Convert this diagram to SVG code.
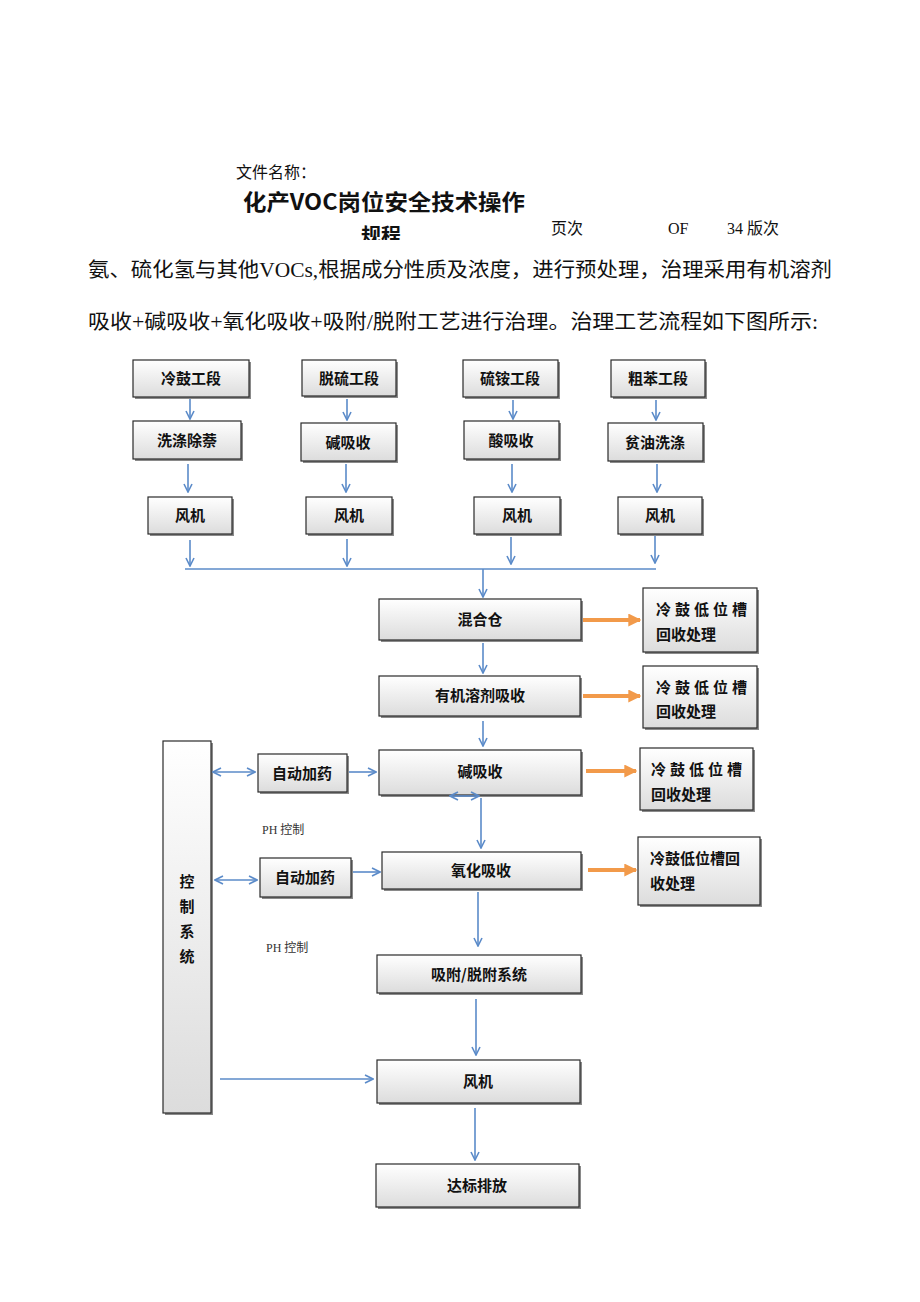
<svg xmlns="http://www.w3.org/2000/svg" width="920" height="1302" viewBox="0 0 920 1302">
<defs>
<linearGradient id="g" x1="0" y1="0" x2="0" y2="1">
<stop offset="0" stop-color="#ffffff"/>
<stop offset="1" stop-color="#dcdcdc"/>
</linearGradient>
<marker id="a" viewBox="0 0 10 10" refX="9" refY="5" markerWidth="10" markerHeight="10" orient="auto-start-reverse" markerUnits="userSpaceOnUse">
<path d="M1,1 L9,5 L1,9" fill="none" stroke="#5b8bc9" stroke-width="1.6"/>
</marker>
<marker id="o" viewBox="0 0 10 10" refX="9" refY="5" markerWidth="13" markerHeight="13" orient="auto" markerUnits="userSpaceOnUse">
<path d="M0,0 L10,5 L0,10 Z" fill="#f29a4a"/>
</marker>
<clipPath id="cl"><rect x="350" y="215" width="80" height="25"/></clipPath>
</defs>
<style>
.b{fill:url(#g);stroke:#2a2a2a;stroke-width:1.2}
.s{fill:#8a8a8a}
.t{font-family:"Noto Sans CJK SC","Liberation Sans",sans-serif;font-size:15px;font-weight:bold;fill:#111;text-anchor:middle}
.r{font-family:"Noto Sans CJK SC","Liberation Sans",sans-serif;font-size:15px;font-weight:bold;fill:#111}
.c{stroke:#5b8bc9;stroke-width:1.6;fill:none}
.ca{stroke:#5b8bc9;stroke-width:1.6;fill:none;marker-end:url(#a)}
.cd{stroke:#5b8bc9;stroke-width:1.6;fill:none;marker-end:url(#a);marker-start:url(#a)}
.co{stroke:#f29a4a;stroke-width:4;fill:none;marker-end:url(#o)}
.h{font-family:"Liberation Serif","Noto Sans CJK SC",serif;fill:#111}
.ph{font-family:"Liberation Serif","Noto Sans CJK SC",serif;font-size:12px;fill:#333}
</style>
<rect width="920" height="1302" fill="#ffffff"/>

<g id="header">
<text class="h" x="236" y="178" font-size="16">文件名称：</text>
<text x="243" y="210" font-family="Noto Sans CJK SC,Liberation Sans,sans-serif" font-size="22" font-weight="bold" fill="#111" textLength="282" lengthAdjust="spacingAndGlyphs">化产VOC岗位安全技术操作</text>
<text x="361" y="243" clip-path="url(#cl)" font-family="Noto Sans CJK SC,Liberation Sans,sans-serif" font-size="20" font-weight="bold" fill="#111">规程</text>
<text class="h" x="551" y="234" font-size="16">页次</text>
<text class="h" x="668" y="234" font-size="16">OF</text>
<text class="h" x="727" y="234" font-size="16">34 版次</text>
<text class="h" x="88" y="277" font-size="20" textLength="744" lengthAdjust="spacingAndGlyphs">氨、硫化氢与其他VOCs,根据成分性质及浓度，进行预处理，治理采用有机溶剂</text>
<text class="h" x="88" y="329" font-size="20" textLength="730" lengthAdjust="spacingAndGlyphs">吸收+碱吸收+氧化吸收+吸附/脱附工艺进行治理。治理工艺流程如下图所示:</text>
</g>

<g id="n1"><rect class="s" x="135" y="362" width="116" height="37"/><rect class="b" x="133" y="360" width="116" height="37"/><text class="t" x="191" y="384">冷鼓工段</text></g>
<g id="n2"><rect class="s" x="304" y="362" width="94" height="36"/><rect class="b" x="302" y="360" width="94" height="36"/><text class="t" x="349" y="384">脱硫工段</text></g>
<g id="n3"><rect class="s" x="465" y="362" width="95" height="37"/><rect class="b" x="463" y="360" width="95" height="37"/><text class="t" x="510" y="384">硫铵工段</text></g>
<g id="n4"><rect class="s" x="613" y="362" width="94" height="37"/><rect class="b" x="611" y="360" width="94" height="37"/><text class="t" x="658" y="384">粗苯工段</text></g>

<g id="n5"><rect class="s" x="135" y="423" width="108" height="38"/><rect class="b" x="133" y="421" width="108" height="38"/><text class="t" x="187" y="446">洗涤除萘</text></g>
<g id="n6"><rect class="s" x="303" y="425" width="95" height="38"/><rect class="b" x="301" y="423" width="95" height="38"/><text class="t" x="348" y="448">碱吸收</text></g>
<g id="n7"><rect class="s" x="466" y="423" width="95" height="38"/><rect class="b" x="464" y="421" width="95" height="38"/><text class="t" x="511" y="446">酸吸收</text></g>
<g id="n8"><rect class="s" x="610" y="425" width="95" height="38"/><rect class="b" x="608" y="423" width="95" height="38"/><text class="t" x="655" y="448">贫油洗涤</text></g>

<g id="n9"><rect class="s" x="150" y="499" width="84" height="37"/><rect class="b" x="148" y="497" width="84" height="37"/><text class="t" x="190" y="521">风机</text></g>
<g id="n10"><rect class="s" x="308" y="499" width="86" height="37"/><rect class="b" x="306" y="497" width="86" height="37"/><text class="t" x="349" y="521">风机</text></g>
<g id="n11"><rect class="s" x="476" y="499" width="86" height="37"/><rect class="b" x="474" y="497" width="86" height="37"/><text class="t" x="517" y="521">风机</text></g>
<g id="n12"><rect class="s" x="620" y="499" width="84" height="37"/><rect class="b" x="618" y="497" width="84" height="37"/><text class="t" x="660" y="521">风机</text></g>

<g id="n13"><rect class="s" x="381" y="601" width="202" height="41"/><rect class="b" x="379" y="599" width="202" height="41"/><text class="t" x="480" y="625">混合仓</text></g>
<g id="n14"><rect class="s" x="645" y="590" width="114" height="64"/><rect class="b" x="643" y="588" width="114" height="64"/><text class="r" x="656" y="615" letter-spacing="4">冷鼓低位槽</text><text class="r" x="656" y="640">回收处理</text></g>
<g id="n15"><rect class="s" x="381" y="678" width="201" height="40"/><rect class="b" x="379" y="676" width="201" height="40"/><text class="t" x="480" y="701">有机溶剂吸收</text></g>
<g id="n16"><rect class="s" x="645" y="668" width="114" height="62"/><rect class="b" x="643" y="666" width="114" height="62"/><text class="r" x="656" y="693" letter-spacing="4">冷鼓低位槽</text><text class="r" x="656" y="717">回收处理</text></g>

<g id="n17"><rect class="s" x="165" y="743" width="48" height="372"/><rect class="b" x="163" y="741" width="48" height="372"/>
<text class="t" x="187" y="887" font-size="17">控</text><text class="t" x="187" y="912" font-size="17">制</text><text class="t" x="187" y="937" font-size="17">系</text><text class="t" x="187" y="962" font-size="17">统</text></g>

<g id="n18"><rect class="s" x="260" y="756" width="89" height="38"/><rect class="b" x="258" y="754" width="89" height="38"/><text class="t" x="302" y="779">自动加药</text></g>
<g id="n19"><rect class="s" x="381" y="752" width="202" height="45"/><rect class="b" x="379" y="750" width="202" height="45"/><text class="t" x="480" y="777">碱吸收</text></g>
<g id="n20"><rect class="s" x="642" y="750" width="113" height="62"/><rect class="b" x="640" y="748" width="113" height="62"/><text class="r" x="651" y="775" letter-spacing="4">冷鼓低位槽</text><text class="r" x="651" y="800">回收处理</text></g>
<text class="ph" x="262" y="834">PH 控制</text>

<g id="n21"><rect class="s" x="262" y="860" width="91" height="39"/><rect class="b" x="260" y="858" width="91" height="39"/><text class="t" x="305" y="883">自动加药</text></g>
<g id="n22"><rect class="s" x="384" y="854" width="199" height="37"/><rect class="b" x="382" y="852" width="199" height="37"/><text class="t" x="481" y="876">氧化吸收</text></g>
<g id="n23"><rect class="s" x="640" y="839" width="122" height="68"/><rect class="b" x="638" y="837" width="122" height="68"/><text class="r" x="650" y="864">冷鼓低位槽回</text><text class="r" x="650" y="889">收处理</text></g>
<text class="ph" x="266" y="952">PH 控制</text>

<g id="n24"><rect class="s" x="379" y="957" width="204" height="38"/><rect class="b" x="377" y="955" width="204" height="38"/><text class="t" x="479" y="980">吸附/脱附系统</text></g>
<g id="n25"><rect class="s" x="379" y="1062" width="203" height="43"/><rect class="b" x="377" y="1060" width="203" height="43"/><text class="t" x="478" y="1087">风机</text></g>
<g id="n26"><rect class="s" x="378" y="1166" width="203" height="43"/><rect class="b" x="376" y="1164" width="203" height="43"/><text class="t" x="477" y="1191">达标排放</text></g>

<g id="connectors">
<line class="ca" x1="190" y1="399" x2="190" y2="419"/>
<line class="ca" x1="347" y1="399" x2="347" y2="420"/>
<line class="ca" x1="513" y1="400" x2="513" y2="419"/>
<line class="ca" x1="656" y1="400" x2="656" y2="420"/>
<line class="ca" x1="188" y1="464" x2="188" y2="492"/>
<line class="ca" x1="346" y1="464" x2="346" y2="492"/>
<line class="ca" x1="512" y1="464" x2="512" y2="492"/>
<line class="ca" x1="657" y1="464" x2="657" y2="492"/>
<line class="ca" x1="190" y1="540" x2="190" y2="566"/>
<line class="ca" x1="347" y1="539" x2="347" y2="566"/>
<line class="ca" x1="511" y1="537" x2="511" y2="564"/>
<line class="ca" x1="655" y1="536" x2="655" y2="563"/>
<line class="c" x1="185" y1="569" x2="656" y2="569"/>
<line class="ca" x1="483" y1="569" x2="483" y2="597"/>
<line class="ca" x1="483" y1="643" x2="483" y2="673"/>
<line class="ca" x1="483" y1="721" x2="483" y2="746"/>
<line class="ca" x1="481" y1="798" x2="481" y2="848"/>
<line class="cd" x1="450" y1="796" x2="479" y2="796"/>
<line class="ca" x1="478" y1="892" x2="478" y2="946"/>
<line class="ca" x1="476" y1="999" x2="476" y2="1055"/>
<line class="ca" x1="475" y1="1108" x2="475" y2="1160"/>
<line class="cd" x1="213" y1="772" x2="255" y2="772"/>
<line class="ca" x1="349" y1="772" x2="376" y2="772"/>
<line class="cd" x1="215" y1="880" x2="257" y2="880"/>
<line class="ca" x1="353" y1="872" x2="380" y2="872"/>
<line class="ca" x1="220" y1="1079" x2="373" y2="1079"/>
<line class="co" x1="583" y1="620" x2="640" y2="620"/>
<line class="co" x1="583" y1="696" x2="640" y2="696"/>
<line class="co" x1="586" y1="771" x2="636" y2="771"/>
<line class="co" x1="588" y1="870" x2="636" y2="870"/>
</g>
</svg>
